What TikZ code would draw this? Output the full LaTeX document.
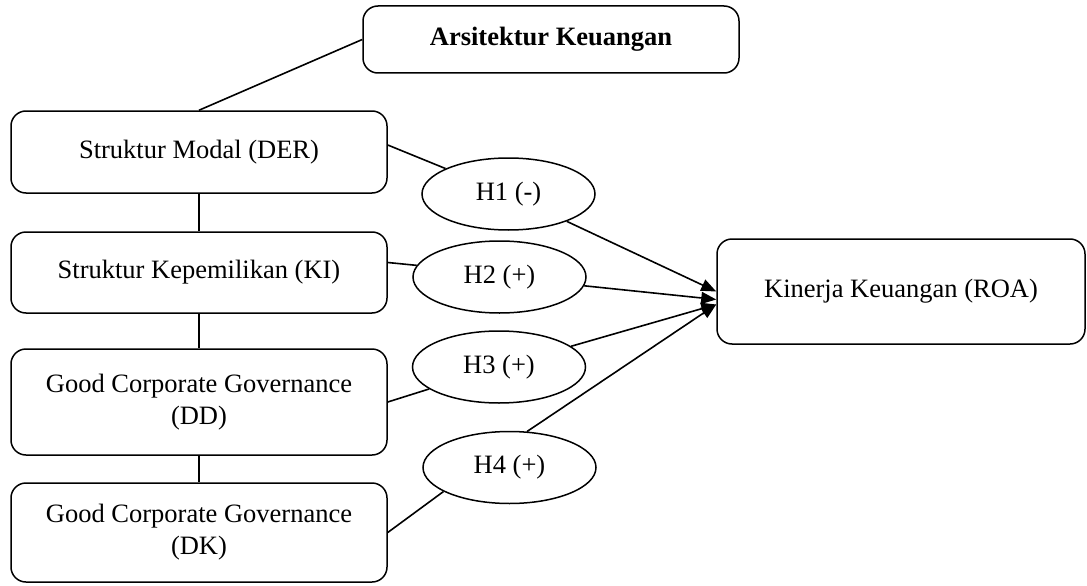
\documentclass[tikz,border=0pt]{standalone}
\usepackage{fontspec}
\setmainfont{Liberation Serif}
\usetikzlibrary{shapes.geometric,arrows.meta}

\tikzset{
  varbox/.style={draw, line width=1.5pt, rounded corners=15pt, align=center,
    inner sep=0pt, minimum width=376pt},
  hipo/.style={draw, ellipse, line width=1.5pt, inner sep=0pt,
    minimum width=173pt, minimum height=72pt},
  garis/.style={line width=1.6pt},
  panah/.style={line width=1.6pt, -{Triangle[length=15pt,width=12pt]}}
}

\begin{document}
\begin{tikzpicture}[x=1pt,y=-1pt,font=\fontsize{26.5}{32}\selectfont]
  \useasboundingbox (0,0) rectangle (1087,586);

  % variabel
  \node [varbox, minimum height=67pt] (ars) at (551,39.5) {\textbf{Arsitektur Keuangan}};
  \node [varbox, minimum height=82pt] (der) at (199,152) {Struktur Modal (DER)};
  \node [varbox, minimum height=81pt] (ki) at (199,272.5) {Struktur Kepemilikan (KI)};
  \node [varbox, minimum height=106pt] (dd) at (199,402) {Good Corporate Governance\\(DD)};
  \node [varbox, minimum height=99pt] (dk) at (199,532.5) {Good Corporate Governance\\(DK)};
  \node [varbox, minimum width=368pt, minimum height=105pt] (roa) at (901,291.5) {Kinerja Keuangan (ROA)};

  % hipotesis
  \node [hipo] (h1) at (508.5,194) {H1 (-)};
  \node [hipo] (h2) at (499.5,277) {H2 (+)};
  \node [hipo] (h3) at (499,367) {H3 (+)};
  \node [hipo] (h4) at (509.5,467.5) {H4 (+)};

  \coordinate (t1) at (roa.west);
  \coordinate (t2) at ([yshift=-8pt]roa.west);
  \coordinate (t3) at ([yshift=-13pt]roa.west);

  % garis
  \draw [garis] (der.north) -- (ars.west);
  \draw [garis] (der.south) -- (ki.north);
  \draw [garis] (ki.south) -- (dd.north);
  \draw [garis] (dd.south) -- (dk.north);

  \draw [garis] ([yshift=7pt]der.east) -- (h1.158);
  \draw [garis] ([yshift=10pt]ki.east) -- (h2.172);
  \draw [garis] (dd.east) -- (h3);
  \draw [garis] (dk.east) -- (h4.200);

  \draw [panah] (h1) -- (t1);
  \draw [panah] (h2) -- (t2);
  \draw [panah] (h3) -- (t3);
  \draw [panah] (h4.64) -- (t3);
\end{tikzpicture}
\end{document}
